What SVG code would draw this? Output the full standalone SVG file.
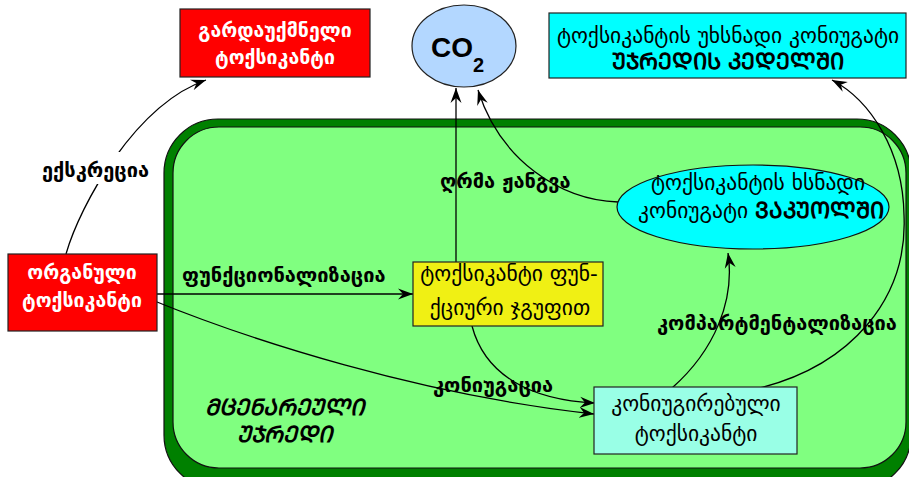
<svg xmlns="http://www.w3.org/2000/svg" width="909" height="477" viewBox="0 0 909 477">
  <style>
    .geo { font-family: "DejaVu Sans", sans-serif; font-size: 21.5px; text-anchor: middle; fill: #000; }
    .white { fill: #ffffff; font-weight: bold; font-size: 19.5px; }
    .caps { font-weight: bold; font-size: 22.5px; }
    .lbl { font-family: "DejaVu Sans", sans-serif; font-size: 20px; font-weight: bold; fill: #000; }
    .box { stroke: #222; stroke-width: 1.2; }
    .edge { fill: none; stroke: #000; stroke-width: 1.3; marker-end: url(#arrow); }
  </style>
  <defs>
    <marker id="arrow" viewBox="-15 -6 16 12" markerWidth="16" markerHeight="12" refX="0" refY="0" orient="auto" markerUnits="userSpaceOnUse">
      <path d="M0,0 L-15,-5.5 L-10,0 L-15,5.5 z" fill="#000"/>
    </marker>
  </defs>

  <!-- plant cell: dark green wall around the light green interior -->
  <g id="cell">
    <rect x="164" y="119" width="747" height="370" rx="54" fill="#008000" stroke="#111" stroke-width="1.2"/>
    <rect x="173" y="127" width="733" height="341" rx="46" fill="#80ff80" stroke="#111" stroke-width="1.2"/>
    <text class="geo caps" x="284" y="415" font-style="italic">ᲛᲪᲔᲜᲐᲠᲔᲣᲚᲘ</text>
    <text class="geo caps" x="284" y="442" font-style="italic">ᲣᲯᲠᲔᲓᲘ</text>
  </g>

  <g id="connectors">
    <path class="edge" d="M66,254 C80,205 135,105 206,80"/>
    <rect x="38" y="152" width="114" height="32" fill="#fff"/>
    <path class="edge" d="M157,294 L413,294"/>
    <path class="edge" d="M152,300 C250,340 420,395 594,414"/>
    <path class="edge" d="M456,262 L456,88"/>
    <path class="edge" d="M618,202 C560,200 500,160 478,90"/>
    <path class="edge" d="M472,326 C485,375 530,400 595,403"/>
    <path class="edge" d="M672,388 C715,350 735,300 728,253"/>
    <path class="edge" d="M760,388 C850,365 908,300 904,215 C903,150 870,100 832,80"/>
  </g>

  <g id="labels">
    <text class="lbl" x="42" y="177">ექსკრეცია</text>
    <text class="lbl" x="182" y="282">ფუნქციონალიზაცია</text>
    <text class="lbl" x="440" y="188">ღრმა ჟანგვა</text>
    <text class="lbl" x="433" y="392">კონიუგაცია</text>
    <text class="lbl" x="657" y="330">კომპარტმენტალიზაცია</text>
  </g>

  <g id="unchanged-toxicant">
    <rect class="box" x="180" y="9" width="190" height="68" fill="#ff0000"/>
    <text class="geo white" x="275" y="37">გარდაუქმნელი</text>
    <text class="geo white" x="275" y="64">ტოქსიკანტი</text>
  </g>

  <g id="co2">
    <ellipse cx="464" cy="46" rx="52" ry="41" fill="#b3d7ff" stroke="#222" stroke-width="1.2"/>
    <text x="431" y="57" font-family="Liberation Sans, Arial, sans-serif" font-size="28" font-weight="bold">CO<tspan font-size="20" dy="15">2</tspan></text>
  </g>

  <g id="insoluble-conjugate">
    <rect class="box" x="549" y="13" width="357" height="65" fill="#00ffff"/>
    <text class="geo" x="728" y="43">ტოქსიკანტის უხსნადი კონიუგატი</text>
    <text class="geo caps" x="728" y="69">ᲣᲯᲠᲔᲓᲘᲡ ᲙᲔᲓᲔᲚᲨᲘ</text>
  </g>

  <g id="organic-toxicant">
    <rect class="box" x="8" y="254" width="149" height="77" fill="#ff0000"/>
    <text class="geo white" x="82" y="279">ორგანული</text>
    <text class="geo white" x="82" y="307">ტოქსიკანტი</text>
  </g>

  <g id="functional-group">
    <rect class="box" x="413" y="262" width="190" height="64" fill="#f0f014"/>
    <text class="geo" x="509" y="281">ტოქსიკანტი ფუნ-</text>
    <text class="geo" x="510" y="315">ქციური ჯგუფით</text>
  </g>

  <g id="soluble-conjugate">
    <ellipse cx="753" cy="207" rx="136" ry="42" fill="#00ffff" stroke="#111" stroke-width="1.2"/>
    <text class="geo" x="758" y="190">ტოქსიკანტის ხსნადი</text>
    <text class="geo" x="761" y="218">კონიუგატი <tspan class="caps">ᲕᲐᲙᲣᲝᲚᲨᲘ</tspan></text>
  </g>

  <g id="conjugated-toxicant">
    <rect class="box" x="594" y="387" width="203" height="67" fill="#99ffe6"/>
    <text class="geo" x="696" y="411">კონიუგირებული</text>
    <text class="geo" x="696" y="441">ტოქსიკანტი</text>
  </g>
</svg>
